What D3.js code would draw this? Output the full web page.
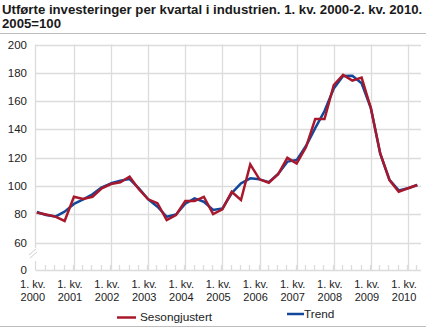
<!DOCTYPE html>
<html><head><meta charset="utf-8">
<script src="https://cdn.jsdelivr.net/npm/d3@7/dist/d3.min.js"></script>
<style>body{margin:0;background:#fff}svg{display:block;font-family:"Liberation Sans",Arial,sans-serif}</style>
</head><body><svg id="c" width="426" height="329"></svg>
<script>
const quarters = ["2000K1","2000K2","2000K3","2000K4","2001K1","2001K2","2001K3","2001K4","2002K1","2002K2","2002K3","2002K4","2003K1","2003K2","2003K3","2003K4","2004K1","2004K2","2004K3","2004K4","2005K1","2005K2","2005K3","2005K4","2006K1","2006K2","2006K3","2006K4","2007K1","2007K2","2007K3","2007K4","2008K1","2008K2","2008K3","2008K4","2009K1","2009K2","2009K3","2009K4","2010K1","2010K2"];
const sesongjustert = [81.3,80,78.5,75.4,92.5,91,92.5,98.5,101.5,102.7,106.7,97.8,90.7,88,76,79.6,89.5,89.5,92.5,80.3,83.6,96,90.2,115.4,104.8,102.4,108.4,120,116,127.4,147.4,147.4,171.4,178.5,174.5,176.6,155,123.2,104.3,96.1,98.5,100.8];
const trend = [81.7,79.6,78.5,82,87.4,90.7,94.2,99.2,102,103.9,105,98.5,90.7,85.5,78.4,80,87.6,91.4,89,83.2,84.3,95,102,105.5,104.8,102.8,108.6,117.3,118.4,128.3,141,153,169,177.8,178,172.6,155,123,104.5,97,98.5,100.8];
const yTicks = [0,60,80,100,120,140,160,180,200];
const xLabelLine1 = ["1. kv.","1. kv.","1. kv.","1. kv.","1. kv.","1. kv.","1. kv.","1. kv.","1. kv.","1. kv.","1. kv."];
const xLabelLine2 = ["2000","2001","2002","2003","2004","2005","2006","2007","2008","2009","2010"];
const titleLines = ["Utførte investeringer per kvartal i industrien. 1. kv. 2000-2. kv. 2010.","2005=100"];
const seriesNames = ["Sesongjustert","Trend"];

const svg = d3.select("#c");
const RED = "#a8182c", BLUE = "#12479a", GRID = "#dcdcdc";
const x = d3.scaleLinear().domain([0, quarters.length-1]).range([36.8, 417.3]);
const y = d3.scaleLinear().domain([0,60,200]).range([270,242.8,44.5]);
const left = 35.5, right = 421, bottom = 270;

// title
svg.append("g").selectAll("text").data(titleLines).join("text")
  .attr("x",2).attr("y",(d,i)=>14+i*14)
  .attr("font-size",13.2).attr("font-weight","bold").attr("fill","#1a1a1a").text(d=>d);
svg.append("line").attr("x1",0).attr("x2",426).attr("y1",33.5).attr("y2",33.5).attr("stroke","#bdbdbd").attr("stroke-width",1);
svg.append("line").attr("x1",0).attr("x2",426).attr("y1",326.5).attr("y2",326.5).attr("stroke","#bdbdbd").attr("stroke-width",1);

// horizontal gridlines
svg.append("g").selectAll("line").data(yTicks.filter(v=>v>0)).join("line")
  .attr("x1",left).attr("x2",right).attr("y1",d=>Math.round(y(d))+0.5).attr("y2",d=>Math.round(y(d))+0.5)
  .attr("stroke",GRID).attr("stroke-width",1.3);
// vertical year gridlines
const yearIdx = d3.range(4, quarters.length, 4);
svg.append("g").selectAll("line").data(yearIdx).join("line")
  .attr("x1",d=>Math.round(x(d))+0.5).attr("x2",d=>Math.round(x(d))+0.5).attr("y1",y(200)).attr("y2",bottom)
  .attr("stroke",GRID).attr("stroke-width",1.3);
// y axis line with break
svg.append("line").attr("x1",left).attr("x2",left).attr("y1",y(200)).attr("y2",248).attr("stroke",GRID).attr("stroke-width",1.3);
svg.append("line").attr("x1",left).attr("x2",left).attr("y1",261).attr("y2",bottom).attr("stroke",GRID).attr("stroke-width",1.3);
svg.append("line").attr("x1",29).attr("x2",36).attr("y1",255).attr("y2",249).attr("stroke","#cfcfcf").attr("stroke-width",1);
svg.append("line").attr("x1",30).attr("x2",37).attr("y1",258).attr("y2",252).attr("stroke","#cfcfcf").attr("stroke-width",1);
// x axis line
svg.append("line").attr("x1",left).attr("x2",right).attr("y1",bottom+0.5).attr("y2",bottom+0.5).attr("stroke",GRID).attr("stroke-width",1.3);
// quarter ticks
svg.append("g").selectAll("line").data(d3.range(1, quarters.length)).join("line")
  .attr("x1",d=>Math.round(x(d))-0.5).attr("x2",d=>Math.round(x(d))-0.5).attr("y1",bottom-5).attr("y2",bottom)
  .attr("stroke",GRID).attr("stroke-width",1.3);

// y tick labels
svg.append("g").selectAll("text").data(yTicks).join("text")
  .attr("x",27).attr("y",d=>y(d)+4).attr("text-anchor","end")
  .attr("font-size",11.5).attr("fill","#222").text(d=>d);

// x labels
const xl = svg.append("g").selectAll("g").data(xLabelLine2).join("g")
  .attr("transform",(d,i)=>`translate(${x(i*4)-4},0)`);
xl.append("text").attr("y",288).attr("text-anchor","middle").attr("font-size",11).attr("fill","#222").text((d,i)=>xLabelLine1[i]);
xl.append("text").attr("y",300.5).attr("text-anchor","middle").attr("font-size",11).attr("fill","#222").text(d=>d);

// lines
const line = d3.line().x((d,i)=>x(i)).y(d=>y(d));
svg.append("path").datum(trend).attr("d",line).attr("fill","none").attr("stroke",BLUE).attr("stroke-width",2.5).attr("stroke-linejoin","round");
svg.append("path").datum(sesongjustert).attr("d",line).attr("fill","none").attr("stroke",RED).attr("stroke-width",2.5).attr("stroke-linejoin","miter");

// legend
svg.append("line").attr("x1",117).attr("x2",136).attr("y1",317.5).attr("y2",317.5).attr("stroke",RED).attr("stroke-width",2.5);
svg.append("text").attr("x",140).attr("y",321).attr("font-size",11.8).attr("fill","#222").text(seriesNames[0]);
svg.append("line").attr("x1",287).attr("x2",304).attr("y1",314).attr("y2",314).attr("stroke",BLUE).attr("stroke-width",2.5);
svg.append("text").attr("x",304).attr("y",318).attr("font-size",11.8).attr("fill","#222").text(seriesNames[1]);
</script></body></html>
